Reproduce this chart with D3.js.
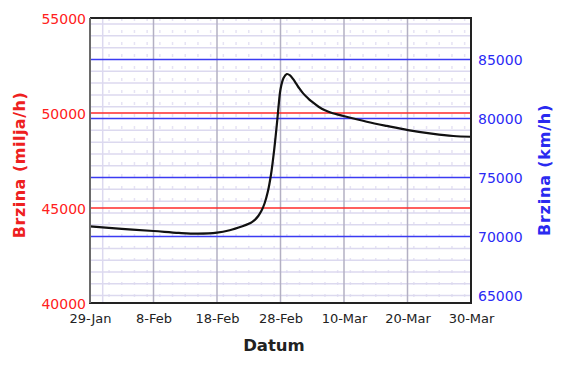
<!DOCTYPE html>
<html>
<head>
<meta charset="utf-8">
<script src="https://cdn.jsdelivr.net/npm/d3@7/dist/d3.min.js"></script>
<style>
  html, body { margin: 0; padding: 0; background: #fff; }
  svg { display: block; }
  text { font-family: "DejaVu Sans", Verdana, sans-serif; }
</style>
</head>
<body>
<svg id="chart" width="570" height="377"></svg>
<script>
// ---- data (speed in miles per hour over time) ----
const dates = [
  "2015-01-29T00:00", "2015-02-03T00:00", "2015-02-08T00:00", "2015-02-12T00:00",
  "2015-02-15T00:00", "2015-02-18T00:00", "2015-02-20T00:00", "2015-02-22T00:00",
  "2015-02-23T00:00", "2015-02-23T12:00", "2015-02-24T00:00", "2015-02-24T12:00",
  "2015-02-25T00:00", "2015-02-25T12:00", "2015-02-26T00:00", "2015-02-26T12:00",
  "2015-02-27T00:00", "2015-02-27T12:00", "2015-02-27T18:00", "2015-02-28T00:00",
  "2015-02-28T12:00", "2015-03-01T00:00", "2015-03-01T12:00", "2015-03-02T00:00",
  "2015-03-02T12:00", "2015-03-03T00:00", "2015-03-03T12:00", "2015-03-04T00:00",
  "2015-03-04T12:00", "2015-03-05T00:00", "2015-03-06T00:00", "2015-03-07T00:00",
  "2015-03-08T00:00", "2015-03-09T22:00", "2015-03-13T14:00", "2015-03-16T17:00",
  "2015-03-20T02:00", "2015-03-24T02:00", "2015-03-27T05:00", "2015-03-30T00:00"
];
const speedMph = [
  44030, 43900, 43790, 43690,
  43650, 43700, 43830, 44040,
  44170, 44260, 44390, 44580,
  44850, 45250, 45850, 46750,
  48050, 49650, 50550, 51250,
  51850, 52050, 51980, 51780,
  51530, 51280, 51060, 50880,
  50720, 50580, 50330, 50140,
  50010, 49840, 49540, 49320,
  49100, 48900, 48790, 48750
];
const xTicks = ["2015-01-29", "2015-02-08", "2015-02-18", "2015-02-28", "2015-03-10", "2015-03-20", "2015-03-30"];
const leftTicks = [40000, 45000, 50000, 55000];
const rightTicks = [65000, 70000, 75000, 80000, 85000];
const mphToKmh = 1.609344;
const xTitle = "Datum";
const leftTitle = "Brzina (milja/h)";
const rightTitle = "Brzina (km/h)";

// ---- layout ----
const L = 90, R = 471, T = 18, B = 303;
const parse = d3.utcParse("%Y-%m-%dT%H:%M");
const parseDay = d3.utcParse("%Y-%m-%d");
const pts = dates.map((d, i) => ({ t: parse(d), v: speedMph[i] }));
const tickDates = xTicks.map(parseDay);

const x = d3.scaleUtc().domain([tickDates[0], tickDates[tickDates.length - 1]]).range([L, R]);
const yL = d3.scaleLinear().domain([leftTicks[0], leftTicks[leftTicks.length - 1]]).range([B, T]);
const yR = d3.scaleLinear().domain(yL.domain().map(v => v * mphToKmh)).range([B, T]);

const svg = d3.select("#chart");
const grid = svg.append("g");

// minor vertical grid every 2 days
const minorDays = d3.utcDay.every(2).range(tickDates[0], tickDates[tickDates.length - 1]);
minorDays.forEach(d => {
  const off = Math.round((d - tickDates[0]) / 864e5) % 10;
  if (off === 0) return;
  const strong = (off === 2 || off === 8);
  grid.append("line")
    .attr("x1", x(d)).attr("x2", x(d)).attr("y1", T).attr("y2", B)
    .attr("stroke", strong ? "#dcd9ef" : "#e6e3f4")
    .attr("stroke-width", 1.5)
    .attr("stroke-dasharray", strong ? null : "3,9");
});

// minor horizontal grid every 1000 km/h
d3.range(Math.ceil(yR.domain()[0] / 1000) * 1000, yR.domain()[1], 1000).forEach(v => {
  if (v % 5000 === 0 && v !== rightTicks[0]) return;
  grid.append("line")
    .attr("x1", L).attr("x2", R).attr("y1", yR(v)).attr("y2", yR(v))
    .attr("stroke", "#dcd9ef").attr("stroke-width", 1.5);
});

// major vertical grid
tickDates.slice(1, -1).forEach(d => {
  grid.append("line")
    .attr("x1", x(d)).attr("x2", x(d)).attr("y1", T).attr("y2", B)
    .attr("stroke", "#b3b0c3").attr("stroke-width", 1.5);
});

// blue (km/h) major lines
rightTicks.slice(1).forEach(v => {
  grid.append("line")
    .attr("x1", L).attr("x2", R).attr("y1", yR(v)).attr("y2", yR(v))
    .attr("stroke", "#3b3bf2").attr("stroke-width", 1.5);
});
// red (mph) major lines
leftTicks.slice(1, -1).forEach(v => {
  grid.append("line")
    .attr("x1", L).attr("x2", R).attr("y1", yL(v)).attr("y2", yL(v))
    .attr("stroke", "#ff2a2a").attr("stroke-width", 1.5);
});

// curve
const line = d3.line().x(d => x(d.t)).y(d => yL(d.v)).curve(d3.curveCatmullRom.alpha(0.5));
svg.append("path").datum(pts)
  .attr("d", line)
  .attr("fill", "none")
  .attr("stroke", "#111")
  .attr("stroke-width", 2.2)
  .attr("stroke-linejoin", "round");

// frame
svg.append("line").attr("x1", L).attr("x2", R + 1).attr("y1", T).attr("y2", T).attr("stroke", "#222").attr("stroke-width", 2);
svg.append("line").attr("x1", R).attr("x2", R).attr("y1", T).attr("y2", B).attr("stroke", "#222").attr("stroke-width", 2);
svg.append("line").attr("x1", L - 1).attr("x2", R + 1).attr("y1", B).attr("y2", B).attr("stroke", "#222").attr("stroke-width", 2);
svg.append("line").attr("x1", L).attr("x2", L).attr("y1", T).attr("y2", B).attr("stroke", "#6a6a6a").attr("stroke-width", 2);

// axes
const fmt = d3.utcFormat("%-d-%b");
const ax = svg.append("g").attr("transform", `translate(0,${B})`)
  .call(d3.axisBottom(x).tickValues(tickDates).tickFormat(fmt).tickSize(0).tickPadding(11));
ax.select(".domain").remove();
ax.selectAll("text").attr("font-size", 13).attr("fill", "#222").attr("font-family", "DejaVu Sans");

const ayl = svg.append("g").attr("transform", `translate(${L},0)`)
  .call(d3.axisLeft(yL).tickValues(leftTicks).tickFormat(d3.format("d")).tickSize(0).tickPadding(4));
ayl.select(".domain").remove();
ayl.selectAll("text").attr("font-size", 14).attr("fill", "#ff2020").attr("font-family", "DejaVu Sans").attr("dy", "0.42em");

const ayr = svg.append("g").attr("transform", `translate(${R},0)`)
  .call(d3.axisRight(yR).tickValues(rightTicks).tickFormat(d3.format("d")).tickSize(0).tickPadding(7));
ayr.select(".domain").remove();
ayr.selectAll("text").attr("font-size", 14).attr("fill", "#2a2af5").attr("font-family", "DejaVu Sans").attr("dy", "0.38em");

// titles
svg.append("text").text(xTitle)
  .attr("x", 274).attr("y", 351)
  .attr("text-anchor", "middle").attr("font-weight", "bold").attr("font-size", 16.5)
  .attr("fill", "#222");
svg.append("text").text(leftTitle)
  .attr("transform", "translate(25,165) rotate(-90)")
  .attr("text-anchor", "middle").attr("font-weight", "bold").attr("font-size", 16)
  .attr("letter-spacing", 0.5)
  .attr("fill", "#ee2020");
svg.append("text").text(rightTitle)
  .attr("transform", "translate(550,170) rotate(-90)")
  .attr("text-anchor", "middle").attr("font-weight", "bold").attr("font-size", 16)
  .attr("letter-spacing", 0.8)
  .attr("fill", "#2a2af0");
</script>
</body>
</html>
